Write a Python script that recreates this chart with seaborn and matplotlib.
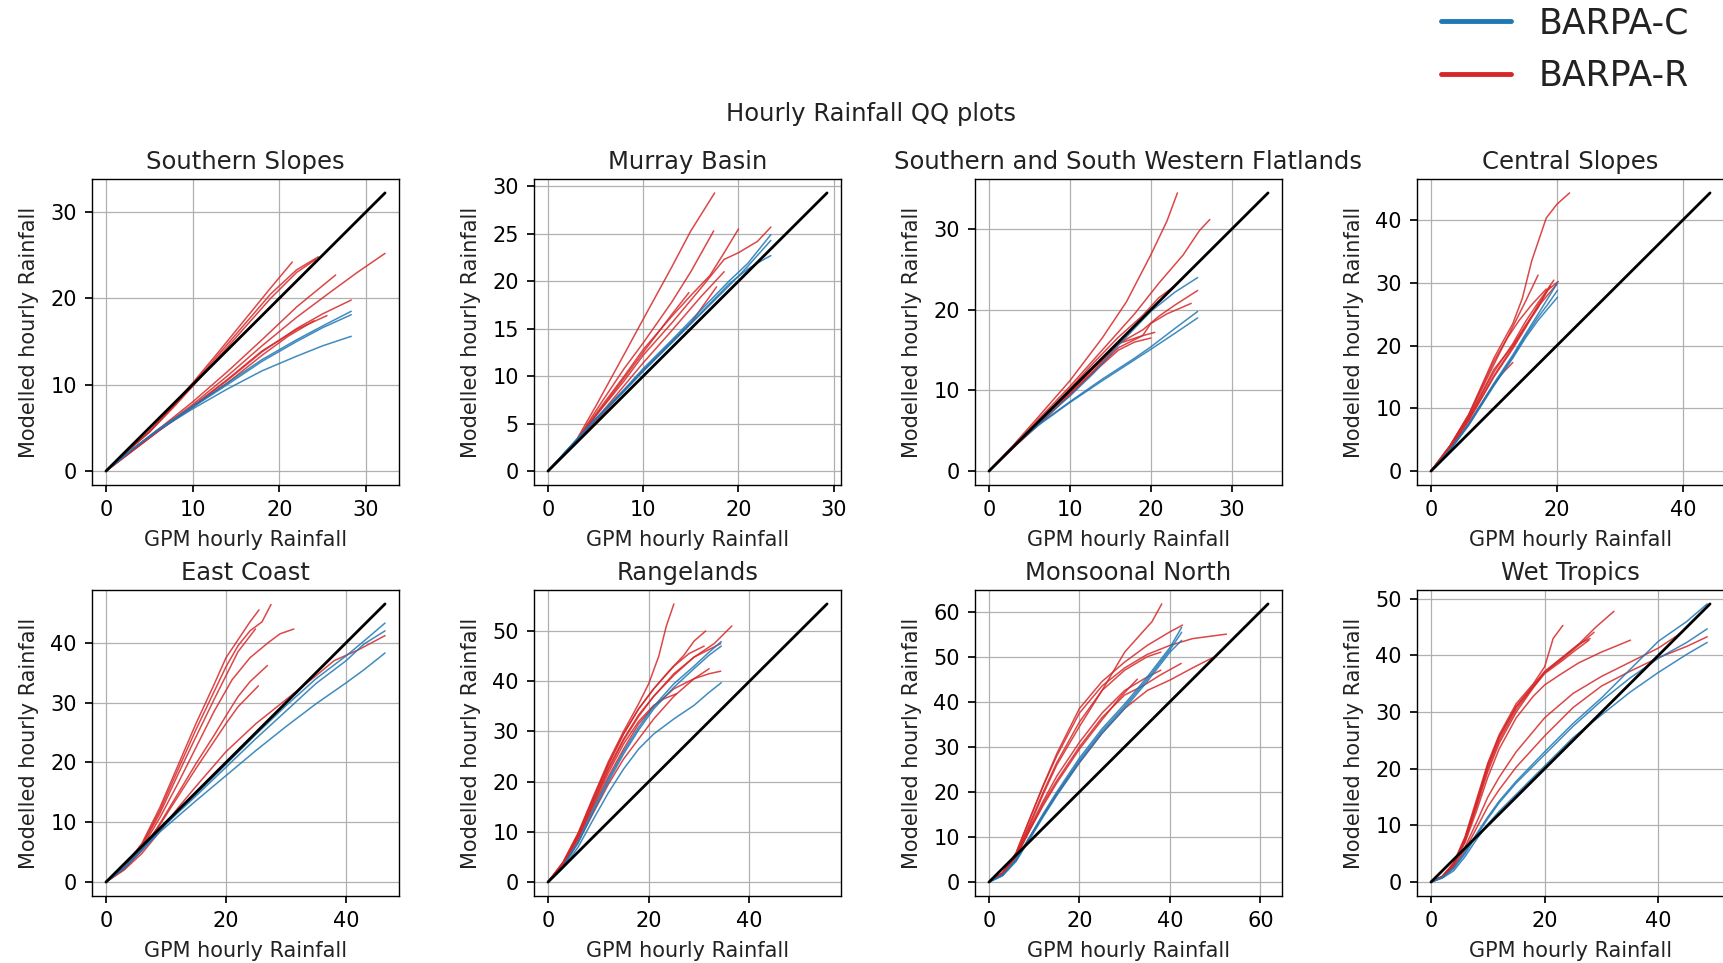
import numpy as np
import pandas as pd
import matplotlib
matplotlib.use("Agg")
import matplotlib.pyplot as plt
from matplotlib.lines import Line2D
from matplotlib.ticker import MultipleLocator
import seaborn as sns

REGIONS = ["Southern Slopes", "Murray Basin", "Southern and South Western Flatlands",
           "Central Slopes", "East Coast", "Rangelands", "Monsoonal North", "Wet Tropics"]
MODELS = ["BARPA-C", "BARPA-R"]
TITLE = "Hourly Rainfall QQ plots"
XLABEL = "GPM hourly Rainfall"
YLABEL = "Modelled hourly Rainfall"
X_STEPS = [10, 10, 10, 20, 20, 20, 20, 20]
Y_STEPS = [10, 5, 10, 10, 10, 10, 10, 10]

# ---- Southern Slopes
SS_R = [
    ([0, 2, 5, 8, 10, 13, 16, 19, 21.5], [0, 1.9, 4.6, 7.9, 10.2, 13.8, 17.5, 21.2, 24.2]),
    ([0, 2, 5, 8, 10, 13, 16, 19, 22, 24.5], [0, 1.9, 4.5, 7.7, 10.0, 13.5, 17.0, 20.5, 23.3, 24.8]),
    ([0, 2, 5, 8, 10, 13, 16, 19, 22, 24.2], [0, 1.9, 4.5, 7.6, 9.8, 13.2, 16.6, 20.0, 23.0, 24.5]),
    ([0, 3, 6, 10, 14, 18, 22, 26.5], [0, 2.4, 4.8, 8.0, 11.5, 15.2, 19.0, 22.7]),
    ([0, 3, 6, 10, 14, 18, 22, 26, 29, 32.2], [0, 2.4, 4.7, 7.7, 11.0, 14.5, 17.8, 20.8, 23.0, 25.2]),
    ([0, 3, 6, 10, 14, 18, 22, 25, 28.3], [0, 2.3, 4.6, 7.5, 10.5, 13.8, 16.5, 18.2, 19.8]),
    ([0, 3, 6, 10, 14, 18, 22, 25.5], [0, 2.3, 4.6, 7.5, 10.6, 13.9, 16.4, 18.0]),
    ([0, 3, 6, 10, 14, 18, 21, 24], [0, 2.3, 4.6, 7.4, 10.2, 13.4, 15.6, 17.4]),
]
SS_C = [
    ([0, 3, 6, 10, 14, 18, 22, 25, 28.3], [0, 2.5, 4.8, 7.5, 10.2, 12.9, 15.2, 16.8, 18.5]),
    ([0, 3, 6, 10, 14, 18, 22, 25, 28.3], [0, 2.5, 4.8, 7.4, 10.0, 12.7, 15.0, 16.6, 18.1]),
    ([0, 3, 6, 10, 14, 18, 22, 25, 28.3], [0, 2.5, 4.7, 7.2, 9.5, 11.6, 13.3, 14.5, 15.6]),
]
# ---- Murray Basin
MB_R = [
    ([0, 3, 5, 8, 10, 13, 15, 17.5], [0, 3.3, 6.8, 12.3, 16.0, 21.5, 25.3, 29.3]),
    ([0, 3, 5, 8, 10, 13, 15, 17.4], [0, 3.2, 6.3, 10.8, 13.5, 17.8, 21.0, 25.3]),
    ([0, 3, 5, 8, 10, 13, 15, 17, 18.5, 20], [0, 3.2, 6.0, 10.0, 12.8, 16.3, 18.5, 20.6, 23.0, 25.5]),
    ([0, 3, 5, 8, 10, 13, 16, 18.5, 20, 22, 23.4], [0, 3.1, 5.8, 9.5, 12.2, 15.6, 19.2, 22.3, 23.0, 24.2, 25.7]),
    ([0, 3, 5, 8, 10, 13, 14.8], [0, 3.1, 5.8, 9.8, 12.5, 16.5, 18.8]),
    ([0, 3, 5, 8, 10, 13, 15, 17.7], [0, 3.0, 5.2, 8.5, 10.6, 13.6, 15.6, 19.4]),
    ([0, 3, 5, 8, 10, 13, 16, 18.5], [0, 3.0, 5.4, 9.0, 11.4, 14.8, 18.3, 21.0]),
]
MB_C = [
    ([0, 3, 5, 8, 10, 13, 16, 19, 21, 23.4], [0, 3.3, 5.5, 8.6, 10.8, 13.8, 16.9, 20.0, 21.9, 24.9]),
    ([0, 3, 5, 8, 10, 13, 16, 19, 21, 22.5, 23.4], [0, 3.3, 5.5, 8.5, 10.6, 13.6, 16.6, 19.7, 21.3, 22.2, 22.7]),
    ([0, 3, 5, 8, 10, 13, 16, 19, 21, 23.4], [0, 3.3, 5.4, 8.4, 10.5, 13.5, 16.5, 19.5, 21.6, 24.3]),
]
# ---- Southern and South Western Flatlands
SF_R = [
    ([0, 3, 6, 10, 14, 17, 20, 22, 23.3], [0, 3.2, 6.6, 11.2, 16.5, 21.0, 26.8, 31.0, 34.5]),
    ([0, 3, 6, 10, 14, 18, 21, 24, 26, 27.3], [0, 3.0, 6.3, 10.5, 15.0, 19.5, 23.3, 26.8, 29.8, 31.2]),
    ([0, 3, 6, 10, 13, 16, 19, 21, 23], [0, 3.0, 6.0, 10.2, 13.5, 16.6, 19.3, 21.5, 23.0]),
    ([0, 3, 6, 10, 13, 16, 19, 21, 23, 25.8], [0, 3.0, 5.9, 9.8, 12.8, 15.8, 17.5, 19.2, 20.6, 22.4]),
    ([0, 3, 6, 10, 13, 16, 19, 20, 22, 25], [0, 2.9, 5.8, 9.7, 12.5, 15.8, 16.8, 18.3, 19.5, 20.8]),
    ([0, 3, 6, 10, 13, 16, 18, 20], [0, 2.9, 5.7, 9.5, 12.3, 15.0, 16.0, 16.5]),
    ([0, 3, 6, 10, 13, 16, 19, 20.5], [0, 2.9, 5.6, 9.4, 12.4, 15.3, 16.8, 17.2]),
]
SF_C = [
    ([0, 3, 6, 10, 13, 16, 20, 23, 25.8], [0, 3.1, 5.9, 9.3, 12.2, 15.6, 19.8, 22.2, 24.0]),
    ([0, 3, 6, 10, 14, 18, 20, 23, 25.8], [0, 3.0, 5.7, 8.6, 11.4, 14.0, 15.4, 17.7, 19.8]),
    ([0, 3, 6, 10, 14, 18, 20, 23, 25.8], [0, 3.0, 5.6, 8.5, 11.2, 13.8, 15.1, 17.1, 19.0]),
]
# ---- Central Slopes
CS_R = [
    ([0, 3, 6, 10, 13, 14.5, 16, 18.3, 20, 22], [0, 4.0, 9.0, 18.0, 23.5, 27.5, 33.5, 40.3, 42.5, 44.3]),
    ([0, 3, 6, 10, 13, 15, 17], [0, 4.0, 8.8, 17.0, 23.0, 27.0, 31.2]),
    ([0, 3, 6, 10, 13, 15, 17, 19.5], [0, 3.8, 8.4, 15.8, 20.3, 23.8, 26.8, 30.4]),
    ([0, 3, 6, 10, 13, 15, 17, 18.5, 20.2], [0, 3.7, 8.2, 15.2, 19.8, 23.0, 26.0, 28.8, 30.2]),
    ([0, 3, 6, 10, 13, 15, 17, 19], [0, 3.6, 8.0, 15.0, 19.5, 22.8, 26.4, 29.5]),
    ([0, 3, 6, 10, 13, 15, 17, 20], [0, 3.8, 8.5, 16.2, 20.0, 23.2, 26.2, 29.8]),
    ([0, 3, 6, 9, 11, 13], [0, 3.5, 7.6, 12.3, 15.2, 17.3]),
    ([0, 3, 6, 10, 12, 14, 16, 18.3], [0, 4.0, 9.0, 17.5, 21.0, 24.0, 26.5, 29.0]),
]
CS_C = [
    ([0, 3, 6, 10, 13, 15, 17, 20.1], [0, 3.4, 7.5, 14.0, 18.5, 21.8, 25.0, 30.0]),
    ([0, 3, 6, 10, 13, 15, 17, 18.5, 20.1], [0, 3.3, 7.3, 13.6, 18.0, 21.2, 24.0, 25.8, 27.7]),
    ([0, 3, 6, 10, 13, 15, 17, 18.5, 20.1], [0, 3.3, 7.4, 13.8, 18.2, 21.5, 24.5, 26.5, 28.8]),
]
# ---- East Coast
EC_R = [
    ([0, 3, 6, 9, 12, 15, 18, 20, 22, 24, 25.5], [0, 2.5, 6.5, 12.5, 19.5, 26.5, 33.0, 37.5, 40.5, 43.5, 45.5]),
    ([0, 3, 6, 9, 12, 15, 18, 20, 22, 24, 26, 27.5], [0, 2.4, 6.2, 12.0, 18.8, 25.5, 31.8, 36.0, 39.5, 42.0, 43.5, 46.4]),
    ([0, 3, 6, 9, 12, 15, 18, 20, 22, 24.9], [0, 2.4, 6.0, 11.5, 18.0, 24.3, 30.5, 34.5, 38.5, 42.3]),
    ([0, 3, 6, 9, 12, 15, 18, 21, 24, 27, 29, 31.3], [0, 2.3, 5.7, 10.8, 16.5, 22.5, 28.5, 33.8, 37.5, 40.0, 41.5, 42.3]),
    ([0, 3, 6, 9, 12, 15, 18, 20, 22, 24, 26.9], [0, 2.2, 5.3, 9.8, 14.8, 19.8, 24.5, 27.8, 31.0, 33.5, 36.2]),
    ([0, 3, 6, 9, 12, 15, 18, 20, 22, 25.4], [0, 2.2, 5.3, 9.6, 14.3, 19.0, 23.5, 26.5, 29.3, 32.8]),
    ([0, 3, 6, 9, 12, 15, 20, 25, 30, 35, 38, 42, 46.5], [0, 2.0, 4.8, 8.5, 12.4, 16.0, 21.8, 26.5, 30.5, 34.5, 37.0, 38.8, 41.2]),
]
EC_C = [
    ([0, 3, 6, 9, 12, 15, 20, 25, 30, 35, 40, 43, 46.5], [0, 2.4, 5.5, 8.8, 11.8, 14.7, 19.7, 24.7, 29.5, 34.0, 37.8, 40.3, 43.3]),
    ([0, 3, 6, 9, 12, 15, 20, 25, 30, 35, 40, 43, 46.5], [0, 2.4, 5.5, 8.7, 11.6, 14.4, 19.2, 24.0, 28.6, 33.2, 37.0, 39.8, 42.0]),
    ([0, 3, 6, 9, 12, 15, 20, 25, 30, 35, 40, 43, 46.5], [0, 2.3, 5.3, 8.4, 11.0, 13.6, 17.8, 22.0, 26.0, 29.8, 33.3, 35.5, 38.3]),
]
# ---- Rangelands
RL_R = [
    ([0, 3, 6, 9, 12, 15, 18, 20, 22, 23.5, 25], [0, 4.0, 9.8, 17.0, 24.0, 30.0, 35.5, 39.5, 45.0, 51.0, 55.4]),
    ([0, 3, 6, 9, 12, 15, 18, 21, 24, 27, 29, 31.3], [0, 3.8, 9.5, 16.5, 23.5, 29.5, 34.5, 38.5, 42.0, 45.2, 48.0, 50.0]),
    ([0, 3, 6, 9, 12, 15, 18, 21, 25, 29, 33, 36.5], [0, 3.7, 9.2, 16.0, 22.8, 28.5, 33.3, 37.0, 41.5, 44.8, 47.5, 51.0]),
    ([0, 3, 6, 9, 12, 15, 18, 21, 25, 29, 34.3], [0, 3.7, 9.0, 15.8, 22.4, 28.2, 33.0, 37.0, 41.2, 44.8, 47.5]),
    ([0, 3, 6, 9, 12, 15, 18, 21, 25, 29, 32, 34.3], [0, 3.5, 8.6, 15.0, 21.0, 26.5, 31.5, 35.0, 38.5, 40.5, 41.5, 42.0]),
    ([0, 3, 6, 9, 12, 15, 18, 21, 23, 25.5], [0, 3.6, 8.8, 15.4, 21.8, 27.5, 32.0, 35.2, 36.5, 37.5]),
    ([0, 3, 6, 9, 12, 15, 18, 21, 25, 29, 32], [0, 3.3, 8.0, 13.8, 19.5, 24.5, 28.5, 32.5, 37.0, 40.5, 42.5]),
    ([0, 3, 6, 9, 12, 15, 18, 21, 25, 28, 31], [0, 3.9, 9.6, 16.8, 23.5, 29.5, 34.5, 38.5, 43.0, 45.5, 47.0]),
]
RL_C = [
    ([0, 3, 6, 9, 12, 15, 18, 21, 25, 29, 32, 34.4], [0, 3.2, 8.0, 14.5, 20.5, 26.0, 30.8, 35.0, 39.5, 43.0, 45.8, 47.9]),
    ([0, 3, 6, 9, 12, 15, 18, 21, 25, 29, 32, 34.4], [0, 3.1, 7.8, 14.0, 20.0, 25.5, 30.3, 34.5, 38.8, 42.5, 45.2, 47.0]),
    ([0, 3, 6, 9, 12, 15, 18, 21, 25, 29, 32, 34.4], [0, 2.8, 7.0, 12.5, 17.8, 22.5, 26.5, 29.5, 32.5, 35.2, 37.8, 39.7]),
]
# ---- Monsoonal North
MN_R = [
    ([0, 3, 6, 9, 12, 15, 20, 25, 30, 34, 36, 38.2], [0, 2.0, 6.0, 12.5, 19.5, 26.0, 34.5, 42.5, 51.0, 55.5, 57.7, 61.7]),
    ([0, 3, 6, 9, 12, 15, 20, 25, 30, 35, 40, 42.8], [0, 2.0, 6.5, 14.0, 21.5, 28.5, 38.5, 44.5, 48.8, 52.5, 55.5, 57.0]),
    ([0, 3, 6, 9, 12, 15, 20, 25, 30, 35, 40, 45, 52.5], [0, 2.0, 6.5, 14.0, 21.3, 28.0, 37.5, 43.5, 47.5, 50.5, 52.5, 54.0, 55.0]),
    ([0, 3, 6, 9, 12, 15, 20, 25, 30, 35, 38], [0, 2.0, 6.0, 13.0, 20.0, 26.5, 35.5, 42.5, 47.0, 50.0, 51.0]),
    ([0, 3, 6, 9, 12, 15, 20, 25, 30, 34, 38, 42.5], [0, 2.0, 5.5, 11.5, 17.5, 22.5, 30.0, 36.5, 41.5, 43.5, 46.0, 48.5]),
    ([0, 3, 6, 9, 12, 15, 20, 25, 30, 35, 40, 45, 49.5], [0, 1.8, 5.0, 10.0, 14.8, 19.5, 26.5, 33.0, 38.5, 42.5, 44.8, 47.5, 49.8]),
    ([0, 3, 6, 9, 12, 15, 20, 25, 29, 32.8], [0, 2.0, 5.7, 11.5, 17.0, 22.0, 29.5, 36.0, 41.0, 45.0]),
    ([0, 3, 6, 9, 12, 15, 20, 25, 30, 35, 38], [0, 2.0, 5.8, 12.0, 18.0, 23.5, 31.0, 37.5, 42.5, 45.5, 47.0]),
]
MN_C = [
    ([0, 3, 6, 9, 12, 15, 20, 25, 30, 35, 40, 42.6], [0, 1.5, 5.0, 10.0, 15.2, 20.0, 27.5, 34.0, 39.5, 45.5, 52.0, 56.5]),
    ([0, 3, 6, 9, 12, 15, 20, 25, 30, 35, 40, 42.6], [0, 1.5, 4.8, 9.8, 14.8, 19.6, 27.0, 33.5, 39.0, 45.0, 51.5, 55.4]),
    ([0, 3, 6, 9, 12, 15, 20, 25, 30, 35, 40, 42.6], [0, 1.4, 4.6, 9.5, 14.5, 19.2, 26.5, 33.0, 38.5, 44.5, 51.0, 53.6]),
]
# ---- Wet Tropics
WT_R = [
    ([0, 2, 4, 6, 8, 10, 12, 15, 18, 20, 21.5, 23.2], [0, 1.0, 3.4, 8.0, 14.5, 21.0, 26.0, 31.5, 35.0, 38.0, 43.0, 45.3]),
    ([0, 2, 4, 6, 8, 10, 12, 15, 18, 20, 23, 26, 29, 32.2], [0, 1.0, 3.3, 7.8, 14.0, 20.5, 25.5, 31.0, 34.5, 37.0, 39.5, 42.0, 45.0, 47.8]),
    ([0, 2, 4, 6, 8, 10, 12, 15, 18, 20, 23, 26, 28.7], [0, 1.0, 3.2, 7.5, 13.5, 20.0, 25.0, 30.5, 34.5, 37.0, 39.3, 41.8, 44.1]),
    ([0, 2, 4, 6, 8, 10, 12, 15, 18, 20, 23, 25, 27.8], [0, 1.0, 3.2, 7.3, 13.2, 19.5, 24.5, 30.0, 34.3, 36.8, 39.0, 40.6, 42.7]),
    ([0, 2, 4, 6, 8, 10, 12, 15, 18, 20, 23, 26, 30, 35.1], [0, 1.0, 3.1, 7.0, 12.5, 18.5, 23.5, 29.0, 32.8, 34.8, 36.8, 38.7, 40.6, 42.7]),
    ([0, 2, 4, 6, 8, 10, 12, 15, 20, 25, 30, 35, 40, 44.2], [0, 0.9, 2.9, 6.2, 10.5, 15.0, 18.5, 23.0, 29.0, 33.3, 36.3, 38.8, 41.3, 44.1]),
    ([0, 2, 4, 6, 8, 10, 12, 15, 20, 25, 30, 35, 40, 45, 48.6], [0, 0.9, 2.7, 5.7, 9.5, 13.3, 16.3, 20.3, 25.8, 30.8, 34.6, 37.2, 39.6, 41.6, 43.3]),
    ([0, 2, 4, 6, 8, 10, 12, 15, 18, 20, 23, 26, 28], [0, 1.0, 3.3, 7.7, 14.0, 20.7, 25.7, 31.0, 34.8, 37.2, 39.6, 42.0, 43.0]),
]
WT_C = [
    ([0, 2, 4, 6, 8, 10, 12, 15, 20, 25, 30, 35, 40, 45, 48.6], [0, 0.8, 2.5, 5.3, 8.5, 11.5, 14.3, 17.8, 23.0, 28.0, 32.5, 37.5, 42.5, 46.0, 49.1]),
    ([0, 2, 4, 6, 8, 10, 12, 15, 20, 25, 30, 35, 40, 45, 48.6], [0, 0.8, 2.4, 5.0, 8.2, 11.2, 14.0, 17.5, 22.5, 27.5, 32.0, 36.0, 39.5, 42.3, 44.7]),
    ([0, 2, 4, 6, 8, 10, 12, 15, 20, 25, 30, 35, 40, 45, 48.6], [0, 0.7, 2.0, 4.5, 7.5, 10.2, 12.5, 15.5, 20.5, 25.5, 29.5, 33.5, 37.0, 40.2, 42.3]),
]

RED_SETS = [SS_R, MB_R, SF_R, CS_R, EC_R, RL_R, MN_R, WT_R]
BLUE_SETS = [SS_C, MB_C, SF_C, CS_C, EC_C, RL_C, MN_C, WT_C]

COLORS = {"BARPA-C": "#1f77b4", "BARPA-R": "#d62728"}

rows = []
for region, reds, blues in zip(REGIONS, RED_SETS, BLUE_SETS):
    for model, curves in (("BARPA-R", reds), ("BARPA-C", blues)):
        for k, (xs, ys) in enumerate(curves):
            for i, (xv, yv) in enumerate(zip(xs, ys)):
                rows.append(dict(region=region, model=model, member=f"{model}_{k}",
                                 order=i, gpm=xv, mod=yv))
df = pd.DataFrame(rows)

sns.set_theme(style="ticks", rc={
    "axes.grid": True, "grid.color": "#b0b0b0", "grid.linewidth": 0.9,
    "axes.edgecolor": "black", "axes.linewidth": 1.0,
    "xtick.color": "black", "ytick.color": "black",
    "text.color": "#222222", "axes.labelcolor": "#222222",
})
plt.rcParams["font.family"] = ["DejaVu Sans"]

fig = plt.figure(figsize=(17.24, 9.63), dpi=100)

lefts = [92, 534, 975, 1417]
tops = [179, 590]
W, H = 1724, 963
aw, ah = 307, 306

for idx, region in enumerate(REGIONS):
    r, c = divmod(idx, 4)
    l = lefts[c]
    t = tops[r]
    ax = fig.add_axes([l / W, 1 - (t + ah) / H, aw / W, ah / H])
    sub = df[df.region == region]
    sns.lineplot(data=sub, x="gpm", y="mod", hue="model", units="member",
                 estimator=None, sort=False, palette=COLORS, hue_order=["BARPA-R", "BARPA-C"],
                 lw=1.1, alpha=0.85, legend=False, ax=ax)
    M = max(sub.gpm.max(), sub["mod"].max())
    ax.plot([0, M], [0, M], color="black", lw=2.0, zorder=3)
    ax.set_title(region, fontsize=17.5, pad=7)
    ax.set_xlabel(XLABEL, fontsize=15, labelpad=7)
    ax.set_ylabel(YLABEL, fontsize=15, labelpad=8)
    ax.tick_params(labelsize=15, length=5, pad=6)
    ax.xaxis.set_major_locator(MultipleLocator(X_STEPS[idx]))
    ax.yaxis.set_major_locator(MultipleLocator(Y_STEPS[idx]))
    ax.grid(True)

fig.text(871 / W, 1 - 114 / H, TITLE, ha="center", va="center", fontsize=17.5)

handles = [Line2D([0], [0], color=COLORS[m], lw=3.5) for m in MODELS]
fig.legend(handles, MODELS, loc="upper left", bbox_to_anchor=(1438 / W, 0.997),
           frameon=False, fontsize=25, handlelength=2.0, handletextpad=0.8,
           labelspacing=0.53, borderpad=0.1, borderaxespad=0)

fig.savefig("out.png", dpi=100)
